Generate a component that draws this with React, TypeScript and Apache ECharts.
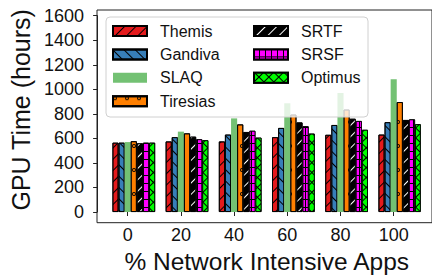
import React, { useEffect, useRef } from "react";
import * as echarts from "echarts";

const categories = ["0", "20", "40", "60", "80", "100"];
const seriesNames = ["Themis", "Gandiva", "SLAQ", "Tiresias", "SRTF", "SRSF", "Optimus"];
const themis = [565, 575, 575, 610, 629, 631];
const gandiva = [565, 610, 631, 685, 709, 732];
const slaq = [570, 655, 763, 886, 970, 1082];
const tiresias = [577, 641, 714, 794, 835, 896];
const srtf = [560, 614, 652, 730, 760, 750];
const srsf = [565, 593, 662, 699, 742, 755];
const optimus = [565, 585, 606, 639, 670, 716];
const yMax = 1600;
const yInterval = 200;

const FONT = "'Liberation Sans', Arial, Helvetica, sans-serif";
const RING = "path://M5,0A5,5,0,1,1,5,10A5,5,0,1,1,5,0ZM5,2.2A2.8,2.8,0,1,0,5,7.8A2.8,2.8,0,1,0,5,2.2Z";

const styles: any = {
  Themis: { color: "#e41a1c", decal: { symbol: "rect", symbolSize: 1, color: "#000", dashArrayX: [1, 0], dashArrayY: [1, 7], rotation: -Math.PI / 4 } },
  Gandiva: { color: "#377eb8", decal: { symbol: "rect", symbolSize: 1, color: "#000", dashArrayX: [1, 0], dashArrayY: [1, 7], rotation: Math.PI / 4 } },
  SLAQ: { color: "#73c173", decal: "none" },
  Tiresias: { color: "#ff7f00", decal: { symbol: RING, symbolSize: 1, color: "#000", dashArrayX: [4, 8], dashArrayY: [4, 20], rotation: 0 } },
  SRTF: { color: "#000", decal: { symbol: "rect", symbolSize: 1, color: "#fff", dashArrayX: [1, 0], dashArrayY: [1, 7], rotation: -Math.PI / 4 } },
  SRSF: { color: "#000", decal: { symbol: "rect", symbolSize: 1, color: "#ff00ff", dashArrayX: [5, 1], dashArrayY: [7, 1], rotation: 0 } },
  Optimus: { color: "#000", decal: { symbol: "rect", symbolSize: 1, color: "#00ff00", dashArrayX: [6, 1], dashArrayY: [6, 1], rotation: Math.PI / 4 } },
};

const values: Record<string, number[]> = {
  Themis: themis,
  Gandiva: gandiva,
  SLAQ: slaq,
  Tiresias: tiresias,
  SRTF: srtf,
  SRSF: srsf,
  Optimus: optimus,
};

export default function App() {
  const ref = useRef<HTMLDivElement>(null);
  useEffect(() => {
    if (!ref.current) return;
    const chart = echarts.init(ref.current, null, { renderer: "svg" });
    const barCommon = {
      type: "bar",
      xAxisIndex: 0,
      yAxisIndex: 0,
      barWidth: 6.1,
      barGap: "0%",
    };
    const pads = ["_pad0", "_pad1"].map((n) => ({
      ...barCommon,
      name: n,
      data: categories.map(() => null),
      silent: true,
    }));
    const mainSeries = seriesNames.map((n) => {
      const st = styles[n];
      const isSlaq = n === "SLAQ";
      return {
        ...barCommon,
        name: n,
        data: values[n],
        itemStyle: {
          color: st.color,
          borderColor: isSlaq ? st.color : "#000",
          borderWidth: isSlaq ? 0 : 0.9,
          decal: st.decal === "none" ? undefined : st.decal,
        },
      };
    });
    const legendCommon = {
      orient: "vertical",
      top: 23,
      itemWidth: 34,
      itemHeight: 10,
      itemGap: 7.4,
      padding: 0,
      icon: "rect",
      z: 20,
      textStyle: { fontSize: 16, color: "#111", fontFamily: FONT, padding: [0, 0, 0, 8] },
    };
    const option: any = {
      animation: false,
      textStyle: { fontFamily: FONT },
      grid: [
        { left: 101.1, width: 319.2, top: 15.7, height: 207 },
        { left: 97, top: 10, width: 380, height: 212.7, show: true, borderColor: "#222", borderWidth: 1, backgroundColor: "transparent" },
      ],
      xAxis: [
        {
          type: "category",
          gridIndex: 0,
          data: categories,
          axisLine: { show: false },
          axisTick: { show: true, alignWithLabel: true, length: 4, lineStyle: { color: "#222" } },
          axisLabel: { fontSize: 18, color: "#111", margin: 14, fontFamily: FONT },
          name: "% Network Intensive Apps",
          nameLocation: "middle",
          nameGap: 37,
          nameTextStyle: { fontSize: 24.5, color: "#111", fontFamily: FONT, padding: [0, 0, 0, 12] },
        },
        { type: "value", gridIndex: 1, show: false, min: 0, max: 1 },
      ],
      yAxis: [
        {
          type: "value",
          gridIndex: 0,
          min: 0,
          max: yMax,
          interval: yInterval,
          offset: 4,
          axisLine: { show: true, lineStyle: { color: "#222" } },
          axisTick: { show: true, length: 4, lineStyle: { color: "#222" } },
          splitLine: { show: false },
          axisLabel: { fontSize: 18, color: "#111", margin: 13, fontFamily: FONT, formatter: (v: number) => String(v) },
          name: "GPU Time (hours)",
          nameLocation: "middle",
          nameGap: 53,
          nameTextStyle: { fontSize: 25, color: "#111", fontFamily: FONT, padding: [0, 0, 0, 8] },
        },
        { type: "value", gridIndex: 1, show: false, min: 0, max: 1 },
      ],
      legend: [
        { ...legendCommon, left: 112, data: seriesNames.slice(0, 4) },
        { ...legendCommon, left: 253, data: seriesNames.slice(4) },
      ],
      graphic: [
        {
          type: "rect",
          z: 10,
          shape: { x: 106, y: 17, width: 262, height: 100, r: 4 },
          style: { fill: "rgba(255,255,255,0.8)", stroke: "#d0d0d0", lineWidth: 1 },
        },
      ],
      series: [...pads, ...mainSeries],
    };
    chart.setOption(option);
    return () => chart.dispose();
  }, []);
  return (
    <div
      ref={ref}
      style={{ position: "fixed", left: 0, top: 0, width: 432, height: 279, background: "#fff" }}
    />
  );
}
